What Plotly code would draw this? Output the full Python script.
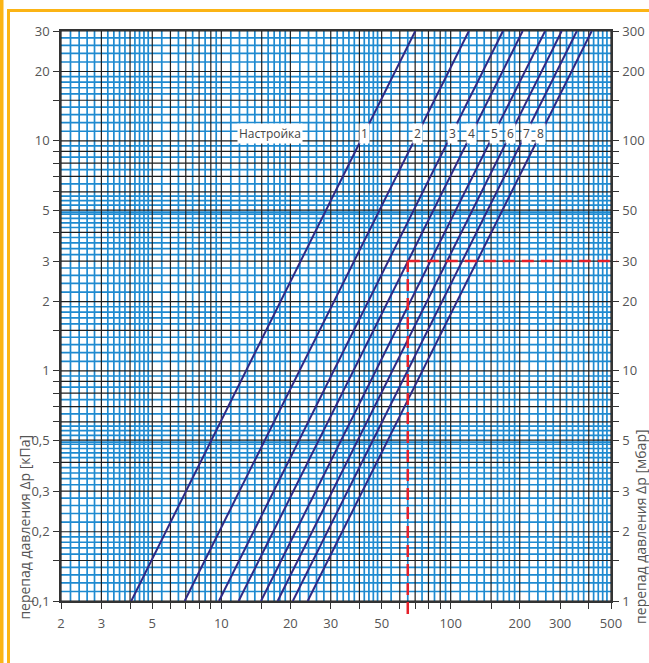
import numpy as np
import plotly.graph_objects as go

# ---------------- data ----------------
x_tick_vals = [2, 3, 5, 10, 20, 30, 50, 100, 200, 300, 500]
x_tick_labels = ['2', '3', '5', '10', '20', '30', '50', '100', '200', '300', '500']
y_tick_vals = [0.1, 0.2, 0.3, 0.5, 1, 2, 3, 5, 10, 20, 30]          # kPa
y_tick_labels = ['0,1', '0,2', '0,3', '0,5', '1', '2', '3', '5', '10', '20', '30']
y2_tick_labels = ['1', '2', '3', '5', '10', '20', '30', '50', '100', '200', '300']  # mbar

settings = ['1', '2', '3', '4', '5', '6', '7', '8']
dp_start = 0.1   # kPa
dp_end = 30.0    # kPa
flow_at_start = [4.05, 6.92, 9.77, 11.9, 14.9, 17.6, 20.5, 23.8]   # flow at 0.1 kPa
flow_at_end = [70.1, 120.0, 169.0, 206.0, 258.0, 305.0, 355.0, 412.0]  # flow at 30 kPa

example_flow = 65.0   # red dashed example
example_dp = 3.0      # kPa

label_dp = 10.8       # level of the "Настройка" labels

# ---------------- styling constants ----------------
X_MIN, X_MAX = 2, 500
Y_MIN, Y_MAX = 0.1, 30
BLUE = 'rgb(30,138,208)'
DARK = '#1e1e1e'
CURVE = '#2e2a86'
RED = '#e5202a'
ORANGE = '#fbb415'
FONT = 'Open Sans, Noto Sans, sans-serif'

major_mant = [1, 1.5, 2, 3, 4, 5, 6, 7, 8, 9]
minor_mant_x = [1.1, 1.2, 1.3, 1.4, 1.6, 1.7, 1.8, 1.9, 2.2, 2.4, 2.6, 2.8,
                3.2, 3.4, 3.6, 3.8, 4.2, 4.4, 4.6, 4.8, 5.5, 6.5, 7.5, 8.5, 9.5]
minor_mant_y = [1.1, 1.2, 1.3, 1.4, 1.6, 1.7, 1.8, 1.9, 2.2, 2.4, 2.6, 2.8,
                3.2, 3.4, 3.6, 3.8, 4.2, 4.4, 4.6, 4.8, 4.9, 5.25, 5.5, 5.75,
                6.5, 7.5, 8.5, 9.5]


def grid_values(mants, lo, hi):
    vals = []
    for dec in [0.01, 0.1, 1, 10, 100, 1000]:
        for m in mants:
            v = round(m * dec, 6)
            if lo - 1e-9 <= v <= hi + 1e-9:
                vals.append(v)
    return sorted(set(vals))


def vsegs(vals):
    xs, ys = [], []
    for v in vals:
        xs += [v, v, None]
        ys += [Y_MIN, Y_MAX, None]
    return xs, ys


def hsegs(vals):
    xs, ys = [], []
    for v in vals:
        xs += [X_MIN, X_MAX, None]
        ys += [v, v, None]
    return xs, ys


fig = go.Figure()

# blue fine grid
bx, by = vsegs(grid_values(minor_mant_x, X_MIN, X_MAX))
hx, hy = hsegs(grid_values(minor_mant_y, Y_MIN, Y_MAX))
fig.add_trace(go.Scatter(x=bx + hx, y=by + hy, mode='lines',
                         line=dict(color=BLUE, width=1.7),
                         hoverinfo='skip', showlegend=False))

# dark major grid
major_x = grid_values(major_mant, X_MIN, X_MAX)
major_y = grid_values(major_mant, Y_MIN, Y_MAX)
bx, by = vsegs(major_x)
hx, hy = hsegs(major_y)
fig.add_trace(go.Scatter(x=bx + hx, y=by + hy, mode='lines',
                         line=dict(color=DARK, width=1.2),
                         hoverinfo='skip', showlegend=False))

# setting lines
for s, q0, q1 in zip(settings, flow_at_start, flow_at_end):
    fig.add_trace(go.Scatter(x=[q0, q1], y=[dp_start, dp_end], mode='lines',
                             line=dict(color=CURVE, width=2),
                             name=s, showlegend=False, hoverinfo='skip'))

# invisible trace to activate the right (mbar) axis
fig.add_trace(go.Scatter(x=[X_MIN], y=[Y_MIN * 10], yaxis='y2', mode='markers',
                         marker=dict(opacity=0), showlegend=False, hoverinfo='skip'))

# ---------------- annotations ----------------
annotations = []
lx0, lx1 = np.log10(X_MIN), np.log10(X_MAX)
ly0, ly1 = np.log10(Y_MIN), np.log10(Y_MAX)

for s, q0, q1 in zip(settings, flow_at_start, flow_at_end):
    t = (np.log10(label_dp) - np.log10(dp_start)) / (np.log10(dp_end) - np.log10(dp_start))
    lq = np.log10(q0) + t * (np.log10(q1) - np.log10(q0))
    annotations.append(dict(x=lq, y=np.log10(label_dp), xref='x', yref='y',
                            text=s, showarrow=False, bgcolor='white',
                            font=dict(family=FONT, size=12, color='#444'),
                            borderpad=1, xanchor='center', yanchor='middle'))

annotations.append(dict(x=np.log10(16.3), y=np.log10(label_dp), xref='x', yref='y',
                        text='Настройка', showarrow=False, bgcolor='white',
                        font=dict(family=FONT, size=12, color='#444'),
                        borderpad=1, xanchor='center', yanchor='middle'))

annotations.append(dict(x=-0.066, y=0.13, xref='paper', yref='paper',
                        text='перепад давления Δp [кПа]', textangle=-90,
                        showarrow=False, font=dict(family=FONT, size=14, color='#555'),
                        xanchor='center', yanchor='middle'))
annotations.append(dict(x=1.0545, y=0.13, xref='paper', yref='paper',
                        text='перепад давления Δp [мбар]', textangle=-90,
                        showarrow=False, font=dict(family=FONT, size=14, color='#555'),
                        xanchor='center', yanchor='middle'))

# ---------------- shapes ----------------
def px(q):
    return (np.log10(q) - lx0) / (lx1 - lx0)


def py(dp):
    return (np.log10(dp) - ly0) / (ly1 - ly0)


shapes = []
ex, ey = px(example_flow), py(example_dp)
shapes.append(dict(type='line', xref='paper', yref='paper',
                   x0=ex, x1=ex, y0=-0.023, y1=ey,
                   line=dict(color=RED, width=2.5, dash='12px,7px')))
shapes.append(dict(type='line', xref='paper', yref='paper',
                   x0=ex, x1=1.011, y0=ey, y1=ey,
                   line=dict(color=RED, width=2.5, dash='12px,7px')))

# orange frame (page decoration)
W_PLOT, H_PLOT = 550, 570
def pxp(p):
    return (p - 61) / W_PLOT


def pyp(p):
    return (601 - p) / H_PLOT


shapes.append(dict(type='rect', xref='paper', yref='paper',
                   x0=pxp(0), x1=pxp(3.5), y0=pyp(663), y1=pyp(0),
                   fillcolor=ORANGE, line=dict(width=0), layer='below'))
shapes.append(dict(type='rect', xref='paper', yref='paper',
                   x0=pxp(7), x1=pxp(10), y0=pyp(663), y1=pyp(9),
                   fillcolor=ORANGE, line=dict(width=0), layer='below'))
shapes.append(dict(type='rect', xref='paper', yref='paper',
                   x0=pxp(7), x1=pxp(649), y0=pyp(12), y1=pyp(9),
                   fillcolor=ORANGE, line=dict(width=0), layer='below'))

x_tick_text = [x_tick_labels[x_tick_vals.index(v)] if v in x_tick_vals else '' for v in major_x]
y_tick_text = [y_tick_labels[y_tick_vals.index(v)] if v in y_tick_vals else '' for v in major_y]
major_y2 = [round(v * 10, 6) for v in major_y]
y2_vals = [round(v * 10, 6) for v in y_tick_vals]
y2_tick_text = [y2_tick_labels[y2_vals.index(v)] if v in y2_vals else '' for v in major_y2]

axis_common = dict(type='log', showgrid=False, zeroline=False, ticks='outside',
                   ticklen=6, tickwidth=1.2, tickcolor='#333', showline=True,
                   linecolor='#333', linewidth=1.5, automargin=False,
                   tickfont=dict(family=FONT, size=13, color='#555'))

fig.update_layout(
    width=649, height=663, autosize=False,
    margin=dict(l=61, r=38, t=31, b=62, autoexpand=False),
    paper_bgcolor='white', plot_bgcolor='white',
    font=dict(family=FONT),
    xaxis=dict(range=[lx0, lx1], tickvals=major_x, ticktext=x_tick_text,
               mirror=True, ticklabelstandoff=4, **axis_common),
    yaxis=dict(range=[ly0, ly1], tickvals=major_y, ticktext=y_tick_text,
               ticklabelstandoff=1, **axis_common),
    yaxis2=dict(range=[0, np.log10(300)], overlaying='y', side='right',
                tickvals=major_y2, ticktext=y2_tick_text, anchor='x',
                ticklabelstandoff=1, **axis_common),
    annotations=annotations,
    shapes=shapes,
)

fig.write_html('out.html',
               config={'displayModeBar': False, 'responsive': False},
               post_script="document.body.style.margin='0';document.body.style.overflow='hidden';")
